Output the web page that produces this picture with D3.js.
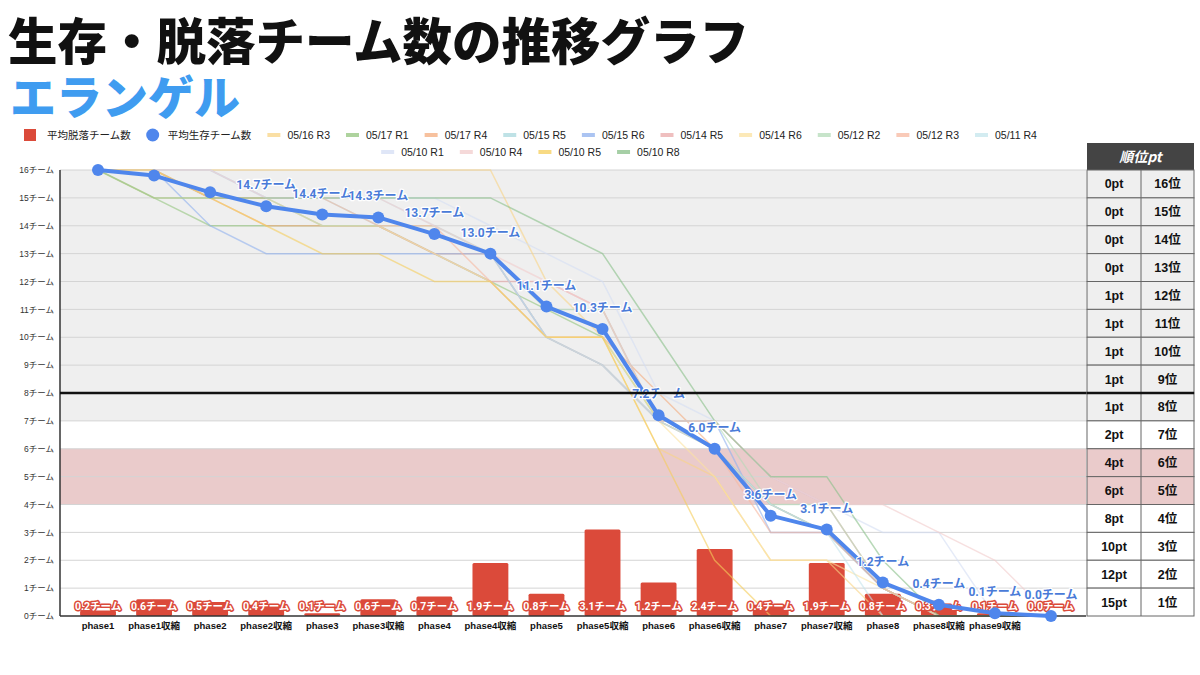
<!DOCTYPE html>
<html>
<head>
<meta charset="utf-8">
<script src="https://cdn.jsdelivr.net/npm/d3@7"></script>
<style>
  body { margin: 0; background: #fff; }
  svg { display: block; font-family: Roboto, "Liberation Sans", "Noto Sans CJK JP", sans-serif; }
</style>
</head>
<body>
<svg id="chart" width="1200" height="675"></svg>
<script>
'use strict';

// ---- data ----
const phases = ["phase1", "phase1収縮", "phase2", "phase2収縮", "phase3", "phase3収縮",
  "phase4", "phase4収縮", "phase5", "phase5収縮", "phase6", "phase6収縮",
  "phase7", "phase7収縮", "phase8", "phase8収縮", "phase9収縮", ""];

const avgSurvive = [16, 15.8, 15.2, 14.7, 14.4, 14.3, 13.7, 13.0, 11.1, 10.3, 7.2, 6.0, 3.6, 3.1, 1.2, 0.4, 0.1, 0.0];
const avgDrop = [0.2, 0.6, 0.5, 0.4, 0.1, 0.6, 0.7, 1.9, 0.8, 3.1, 1.2, 2.4, 0.4, 1.9, 0.8, 0.3, 0.1, 0.0];

const matchNames = ["05/16 R3", "05/17 R1", "05/17 R4", "05/15 R5", "05/15 R6", "05/14 R5", "05/14 R6",
  "05/12 R2", "05/12 R3", "05/11 R4", "05/10 R1", "05/10 R4", "05/10 R5", "05/10 R8"];
const matchColors = ["#f8d486", "#93c47d", "#f4ac7e", "#a9d8de", "#8fb0ee", "#eaa9a9", "#fbe2a0",
  "#b4dbb8", "#f7b8a0", "#c4e5ec", "#d4def4", "#f2cccc", "#f5cd5a", "#88bf88"];
const matchRuns = [
  [16, 16, 16, 16, 16, 16, 16, 16, 12, 10, 6, 5, 2, 2, 0, 0, 0, 0],
  [16, 15, 14, 14, 14, 14, 13, 12, 11, 10, 7, 6, 4, 3, 1, 0, 0, 0],
  [16, 16, 15, 14, 14, 14, 13, 13, 10, 10, 8, 6, 4, 3, 1, 0, 0, 0],
  [16, 16, 16, 15, 15, 14, 13, 12, 10, 9, 7, 6, 4, 3, 1, 0, 0, 0],
  [16, 16, 14, 13, 13, 13, 13, 13, 10, 9, 7, 7, 3, 3, 1, 0, 0, 0],
  [16, 16, 15, 15, 14, 14, 13, 12, 12, 11, 7, 7, 5, 4, 1, 0, 0, 0],
  [16, 15, 15, 15, 14, 14, 13, 12, 10, 10, 7, 5, 2, 2, 1, 0, 0, 0],
  [16, 16, 15, 15, 14, 14, 14, 13, 11, 11, 7, 7, 4, 4, 1, 0, 0, 0],
  [16, 16, 15, 15, 15, 14, 14, 12, 10, 9, 7, 6, 3, 3, 1, 0, 0, 0],
  [16, 16, 16, 15, 15, 15, 14, 13, 10, 9, 7, 6, 4, 3, 0, 0, 0, 0],
  [16, 16, 16, 15, 15, 15, 15, 14, 13, 12, 8, 7, 5, 4, 3, 3, 0, 0],
  [16, 16, 16, 15, 15, 15, 14, 13, 12, 11, 7, 7, 5, 4, 4, 3, 2, 0],
  [16, 16, 15, 14, 13, 13, 12, 12, 10, 10, 6, 2, 0, 0, 0, 0, 0, 0],
  [16, 15, 15, 15, 15, 15, 15, 15, 14, 13, 10, 7, 5, 5, 2, 0, 0, 0]
];

const rankPlaces = [16, 15, 14, 13, 12, 11, 10, 9, 8, 7, 6, 5, 4, 3, 2, 1];
const rankPoints = [0, 0, 0, 0, 1, 1, 1, 1, 1, 2, 4, 6, 8, 10, 12, 15];
const yTicks = d3.range(0, 17);

// ---- layout ----
const plot = { left: 60, right: 1086, top: 170, bottom: 616 };
const table = { left: 1087, mid: 1141, right: 1194, headTop: 143 };
const blue = "#4f86ec", red = "#db4a3a";

const svg = d3.select("#chart");

const x = d3.scaleBand().domain(d3.range(phases.length)).range([70, 1079]);
const cx = i => x(i) + x.bandwidth() / 2;
const y = d3.scaleLinear().domain([0, 16]).range([plot.bottom, plot.top]);

// title
svg.append("text").attr("x", 8).attr("y", 60)
  .style("font-family", '"Noto Sans CJK JP", sans-serif')
  .style("font-weight", 900).style("font-size", "49.5px").attr("fill", "#111")
  .text("生存・脱落チーム数の推移グラフ");
svg.append("text").attr("x", 10).attr("y", 114)
  .style("font-family", '"Noto Sans CJK JP", sans-serif')
  .style("font-weight", 900).style("font-size", "46px").attr("fill", "#3f9cf0")
  .text("エランゲル");

// background bands
const bg = svg.append("g");
bg.append("rect").attr("x", plot.left).attr("width", plot.right - plot.left)
  .attr("y", y(16)).attr("height", y(7) - y(16)).attr("fill", "#efefef");
bg.append("rect").attr("x", plot.left).attr("width", plot.right - plot.left)
  .attr("y", y(6)).attr("height", y(4) - y(6)).attr("fill", "#eacbcb");

// gridlines
svg.append("g").selectAll("line").data(yTicks.filter(d => d > 0)).join("line")
  .attr("x1", plot.left).attr("x2", plot.right)
  .attr("y1", d => y(d)).attr("y2", d => y(d))
  .attr("stroke", "#d4d4d4").attr("stroke-width", 1);

// y axis
const yAxis = svg.append("g").attr("transform", `translate(${plot.left},0)`)
  .call(d3.axisLeft(y).tickValues(yTicks).tickFormat(d => d + "チーム").tickSize(0).tickPadding(6));
yAxis.select(".domain").remove();
yAxis.selectAll("text").style("font-size", "8.5px").attr("fill", "#333")
  .style("font-family", '"Liberation Sans", "Noto Sans CJK JP", sans-serif');

// x axis
const xAxis = svg.append("g").attr("transform", `translate(0,${plot.bottom})`)
  .call(d3.axisBottom(x).tickFormat(i => phases[i]).tickSize(0).tickPadding(6));
xAxis.select(".domain").remove();
xAxis.selectAll("text").style("font-size", "9.5px").style("font-weight", "bold").attr("fill", "#111")
  .style("font-family", '"Liberation Sans", "Noto Sans CJK JP", sans-serif');

// bars (average drop)
const barW = x.bandwidth() * 0.64;
svg.append("g").selectAll("rect").data(avgDrop).join("rect")
  .attr("x", (d, i) => cx(i) - barW / 2).attr("width", barW)
  .attr("y", d => y(d)).attr("height", d => y(0) - y(d))
  .attr("rx", 1.5).attr("fill", red);

// individual matches
const line = d3.line().x((d, i) => cx(i)).y(d => y(d));
svg.append("g").selectAll("path").data(matchRuns).join("path")
  .attr("d", line).attr("fill", "none")
  .attr("stroke", (d, i) => matchColors[i]).attr("stroke-width", 1.5).attr("stroke-opacity", 0.6);

// axis lines
svg.append("line").attr("x1", plot.left).attr("x2", plot.left).attr("y1", plot.top).attr("y2", plot.bottom)
  .attr("stroke", "#333").attr("stroke-width", 1.5);
svg.append("line").attr("x1", plot.left).attr("x2", plot.right).attr("y1", plot.bottom).attr("y2", plot.bottom)
  .attr("stroke", "#333").attr("stroke-width", 1.5);

// bar labels
svg.append("g").selectAll("text").data(avgDrop).join("text")
  .attr("x", (d, i) => cx(i)).attr("y", y(0) - 6)
  .attr("text-anchor", "middle")
  .style("font-size", "10.5px").style("font-weight", "bold")
  .attr("fill", "#fff").attr("stroke", red).attr("stroke-width", 3).attr("stroke-linejoin", "round")
  .style("paint-order", "stroke")
  .text(d => d.toFixed(1) + "チーム");

// average survivors line
svg.append("path").datum(avgSurvive).attr("d", line)
  .attr("fill", "none").attr("stroke", blue).attr("stroke-width", 4).attr("stroke-linejoin", "round");
svg.append("g").selectAll("circle").data(avgSurvive).join("circle")
  .attr("cx", (d, i) => cx(i)).attr("cy", d => y(d)).attr("r", 6).attr("fill", blue);

// average labels (first three hidden in the original)
svg.append("g").selectAll("text").data(avgSurvive.map((v, i) => ({ v, i })).slice(3)).join("text")
  .attr("x", d => cx(d.i)).attr("y", d => y(d.v) - 17)
  .attr("text-anchor", "middle")
  .style("font-size", "12px").style("font-weight", "bold")
  .attr("fill", "#4a7bd8").attr("stroke", "#fff").attr("stroke-width", 2.5).attr("stroke-linejoin", "round")
  .style("paint-order", "stroke")
  .text(d => d.v.toFixed(1) + "チーム");

// line at 8 teams
svg.append("line").attr("x1", plot.left).attr("x2", table.right).attr("y1", y(8)).attr("y2", y(8))
  .attr("stroke", "#111").attr("stroke-width", 2.5);

// ---- legend ----
const legendItems = [{ name: "平均脱落チーム数", kind: "bar", color: red },
  { name: "平均生存チーム数", kind: "dot", color: blue }]
  .concat(matchNames.map((n, i) => ({ name: n, kind: "line", color: matchColors[i] })));

const lg = svg.append("g").style("font-size", "10.5px")
  .style("font-family", '"Liberation Sans", "Noto Sans CJK JP", sans-serif');
function placeItem(g, item, x0, cy) {
  const gi = g.append("g");
  let tx;
  if (item.kind === "bar") {
    gi.append("rect").attr("x", x0).attr("y", cy - 6).attr("width", 12).attr("height", 12).attr("fill", item.color);
    tx = x0 + 23;
  } else if (item.kind === "dot") {
    gi.append("circle").attr("cx", x0 + 6).attr("cy", cy).attr("r", 6.5).attr("fill", item.color);
    tx = x0 + 21;
  } else {
    gi.append("line").attr("x1", x0).attr("x2", x0 + 13).attr("y1", cy).attr("y2", cy)
      .attr("stroke", item.color).attr("stroke-width", 4).attr("stroke-opacity", 0.75);
    tx = x0 + 20;
  }
  const t = gi.append("text").attr("x", tx).attr("y", cy + 4).attr("fill", "#222").text(item.name);
  return tx + t.node().getComputedTextLength();
}
let lx = 24;
legendItems.slice(0, 12).forEach(it => { lx = placeItem(lg, it, lx, 135) + 16; });
const row1Center = (24 + lx - 16) / 2;
// second row, centred under the first
const row2 = lg.append("g");
let lx2 = 0;
legendItems.slice(12).forEach(it => { lx2 = placeItem(row2, it, lx2, 152) + 16; });
row2.attr("transform", `translate(${row1Center - (lx2 - 16) / 2},0)`);

// ---- ranking table ----
const tg = svg.append("g");
tg.append("rect").attr("x", table.left).attr("y", table.headTop)
  .attr("width", table.right - table.left).attr("height", plot.top - table.headTop).attr("fill", "#444");
tg.append("text").attr("x", (table.left + table.right) / 2).attr("y", (table.headTop + plot.top) / 2 + 5)
  .attr("text-anchor", "middle").attr("fill", "#fff")
  .style("font-size", "14px").style("font-weight", "bold").style("font-style", "italic")
  .style("font-family", '"Noto Sans CJK JP", sans-serif')
  .text("順位pt");

const rowFill = p => p >= 8 ? "#efefef" : (p === 6 || p === 5) ? "#eacbcb" : "#fff";
const rows = tg.selectAll("g.row").data(rankPlaces).join("g").attr("class", "row");
rows.append("rect").attr("x", table.left).attr("width", table.right - table.left)
  .attr("y", d => y(d)).attr("height", d => y(d - 1) - y(d)).attr("fill", rowFill)
  .attr("stroke", "#666").attr("stroke-width", 1);
rows.append("line").attr("x1", table.mid).attr("x2", table.mid)
  .attr("y1", d => y(d)).attr("y2", d => y(d - 1)).attr("stroke", "#666");
rows.append("text").attr("x", (table.left + table.mid) / 2).attr("y", d => (y(d) + y(d - 1)) / 2 + 4.5)
  .attr("text-anchor", "middle").style("font-size", "12.5px").style("font-weight", "bold").attr("fill", "#111")
  .style("font-family", '"Liberation Sans", "Noto Sans CJK JP", sans-serif')
  .text((d, i) => rankPoints[i] + "pt");
rows.append("text").attr("x", (table.mid + table.right) / 2).attr("y", d => (y(d) + y(d - 1)) / 2 + 4.5)
  .attr("text-anchor", "middle").style("font-size", "12.5px").style("font-weight", "bold").attr("fill", "#111")
  .style("font-family", '"Liberation Sans", "Noto Sans CJK JP", sans-serif')
  .text(d => d + "位");
tg.append("line").attr("x1", table.left).attr("x2", table.right).attr("y1", y(8)).attr("y2", y(8))
  .attr("stroke", "#111").attr("stroke-width", 2.5);
</script>
</body>
</html>
